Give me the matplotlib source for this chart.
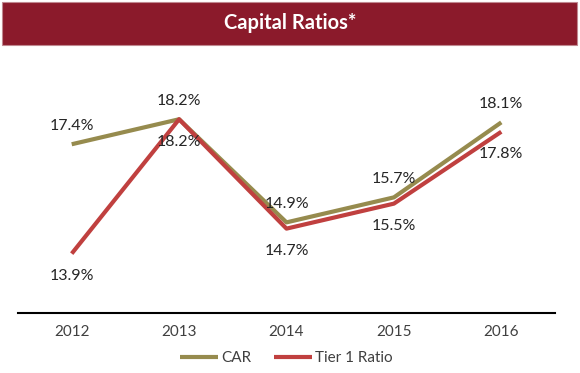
import matplotlib
matplotlib.use('Agg')
import matplotlib.pyplot as plt
from matplotlib.patches import Rectangle

years = ['2012', '2013', '2014', '2015', '2016']
car = [17.4, 18.2, 14.9, 15.7, 18.1]
tier1 = [13.9, 18.2, 14.7, 15.5, 17.8]

car_color = '#968B4E'
tier1_color = '#C0403F'
banner_color = '#8B1A2B'

plt.rcParams['font.family'] = ['Lato', 'DejaVu Sans']

fig = plt.figure(figsize=(5.8, 3.73), dpi=100)

# Title banner
fig.patches.append(Rectangle((2 / 580, 1 - 45 / 373), 575 / 580, 43 / 373,
                             transform=fig.transFigure, fc=banner_color,
                             ec='#C08890', lw=0.8))
fig.text(0.5, 1 - 23 / 373, 'Capital Ratios*', color='white', fontsize=14.5,
         fontweight='bold', ha='center', va='center')

ax = fig.add_axes([18 / 580, 1 - 313 / 373, 537 / 580, 250 / 373])
x = list(range(len(years)))
ax.plot(x, car, color=car_color, lw=3, label='CAR', solid_capstyle='butt')
ax.plot(x, tier1, color=tier1_color, lw=3, label='Tier 1 Ratio', solid_capstyle='butt')

ax.set_xlim(-0.5, len(years) - 0.5)
ax.set_ylim(12, 20)
ax.set_yticks([])
ax.set_xticks(x)
ax.set_xticklabels(years, fontsize=11, color='#404040')
ax.tick_params(axis='x', length=0, pad=9)
for s in ['top', 'right', 'left']:
    ax.spines[s].set_visible(False)
ax.spines['bottom'].set_linewidth(1.5)
ax.spines['bottom'].set_color('black')

# Data labels: CAR above, Tier 1 below
for i, v in enumerate(car):
    ax.annotate(f'{v:.1f}%', (i, v), xytext=(0, 8), textcoords='offset points',
                ha='center', va='bottom', fontsize=11.5, color='#262626')
for i, v in enumerate(tier1):
    ax.annotate(f'{v:.1f}%', (i, v), xytext=(0, -11), textcoords='offset points',
                ha='center', va='top', fontsize=11.5, color='#262626')

ax.legend(loc='center', bbox_to_anchor=(0.5, -0.18), ncol=2, frameon=False,
          fontsize=11, handlelength=2.5, handletextpad=0.2, columnspacing=1.5,
          labelcolor='#404040')

fig.savefig('out.png', dpi=100)
